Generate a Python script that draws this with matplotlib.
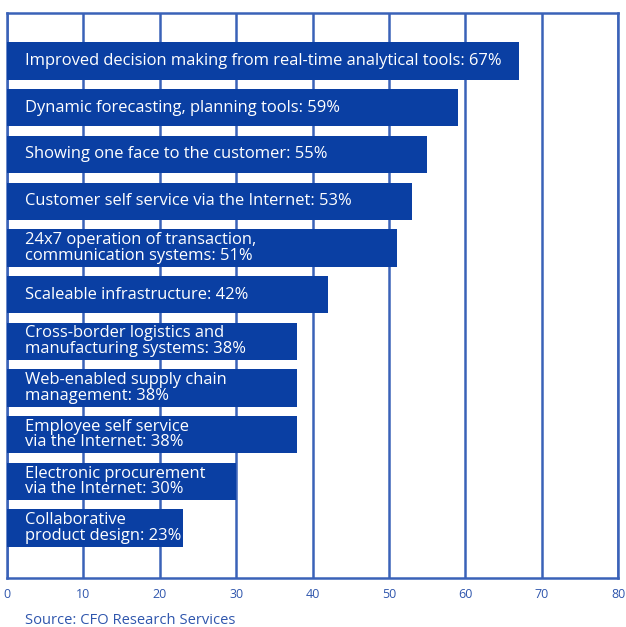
import matplotlib.pyplot as plt

# Survey responses, top to bottom
labels = [
    "Improved decision making from real-time analytical tools: 67%",
    "Dynamic forecasting, planning tools: 59%",
    "Showing one face to the customer: 55%",
    "Customer self service via the Internet: 53%",
    "24x7 operation of transaction,\ncommunication systems: 51%",
    "Scaleable infrastructure: 42%",
    "Cross-border logistics and\nmanufacturing systems: 38%",
    "Web-enabled supply chain\nmanagement: 38%",
    "Employee self service\nvia the Internet: 38%",
    "Electronic procurement\nvia the Internet: 30%",
    "Collaborative\nproduct design: 23%",
]
values = [67, 59, 55, 53, 51, 42, 38, 38, 38, 30, 23]
xticks = [0, 10, 20, 30, 40, 50, 60, 70, 80]

bar_color = "#0a3fa3"
line_color = "#3a62b8"
text_color = "#2f56ad"

plt.rcParams["font.family"] = ["Open Sans", "DejaVu Sans"]

fig = plt.figure(figsize=(6.26, 6.27), dpi=100)
ax = fig.add_axes([7 / 626, 1 - 578 / 627, 611 / 626, 565 / 627])

pos = list(range(len(values)))
ax.barh(pos, values, height=0.8, color=bar_color, zorder=3)

for y, v, lab in zip(pos, values, labels):
    ax.text(2.3, y, lab, color="white", fontsize=11.9, va="center",
            ha="left", linespacing=0.97, zorder=4)

ax.set_xlim(0, 80)
ax.set_ylim(len(values) - 1 + 1.07, -1.03)
ax.set_xticks(xticks)
ax.set_yticks([])
ax.tick_params(axis="x", length=0, pad=7, labelsize=9, labelcolor=text_color)
ax.grid(axis="x", color=line_color, linewidth=1.8, zorder=1)
for s in ax.spines.values():
    s.set_color(line_color)
    s.set_linewidth(1.8)

fig.text(25 / 626, 1 - 620 / 627, "Source: CFO Research Services",
         color=text_color, fontsize=10.6, va="center", ha="left")

fig.savefig("out.png", dpi=100)
